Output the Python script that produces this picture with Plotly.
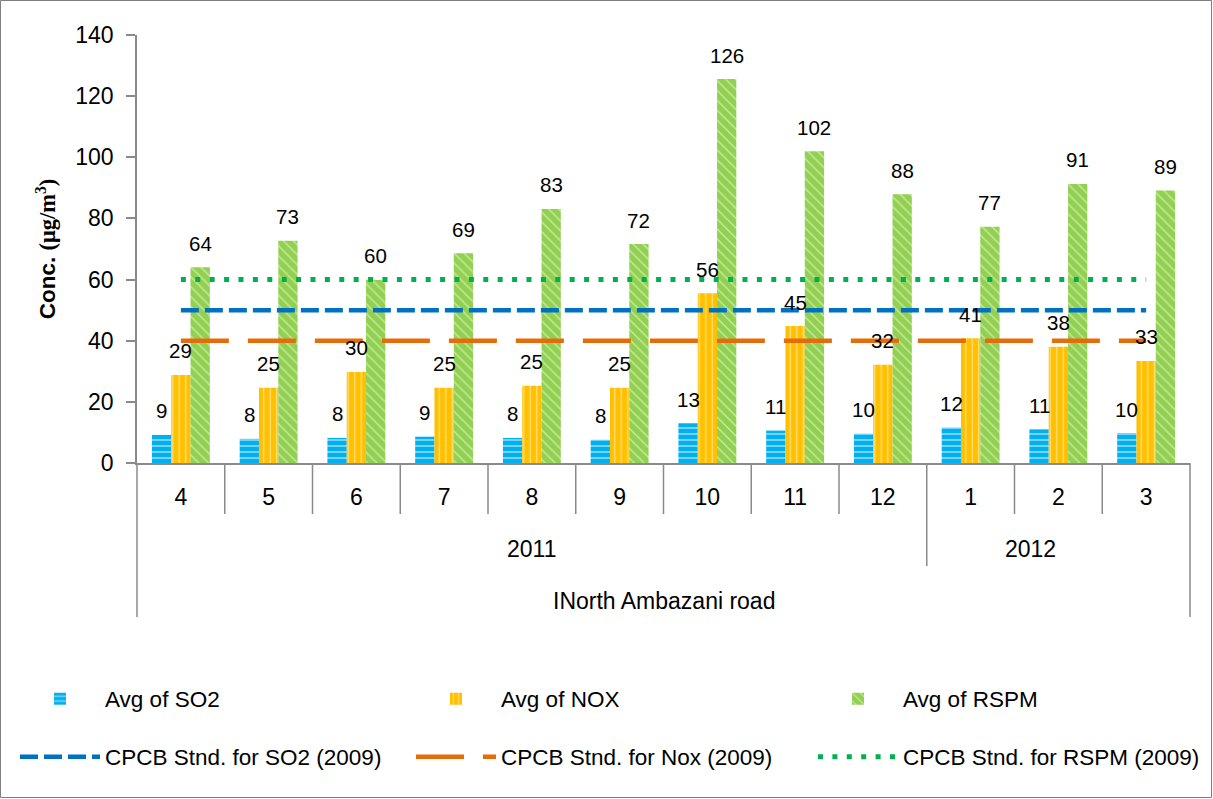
import plotly.graph_objects as go

# ---------------- data ----------------
months = ["4", "5", "6", "7", "8", "9", "10", "11", "12", "1", "2", "3"]
years = ["2011", "2011", "2011", "2011", "2011", "2011", "2011", "2011", "2011",
         "2012", "2012", "2012"]
site = "INorth Ambazani road"

so2 = [9.2, 7.9, 8.2, 8.6, 8.2, 7.6, 13.0, 10.6, 9.6, 11.6, 11.0, 9.8]
nox = [28.8, 24.6, 29.8, 24.6, 25.3, 24.6, 55.5, 44.8, 32.1, 40.8, 38.0, 33.4]
rspm = [64.0, 72.7, 59.9, 68.6, 83.1, 71.6, 125.6, 102.0, 87.9, 77.3, 91.3, 89.1]

so2_std = [50, 50, 50, 50, 50, 50, 50, 50, 50, 50, 50, 50]
nox_std = [40, 40, 40, 40, 40, 40, 40, 40, 40, 40, 40, 40]
rspm_std = [60, 60, 60, 60, 60, 60, 60, 60, 60, 60, 60, 60]

bar_names = ["Avg of SO2", "Avg of NOX", "Avg of RSPM"]
line_names = ["CPCB Stnd. for SO2 (2009)", "CPCB Stnd. for Nox (2009)",
              "CPCB Stnd. for RSPM (2009)"]

# ---------------- style ----------------
FONT = "Liberation Sans"
AXIS_GREY = "#8a8a8a"
W, H = 1213, 799
ML, MR, MT, MB = 137, 23, 35, 336
PW, PH = W - ML - MR, H - MT - MB
BARGAP = 0.34
n = len(months)
xs = list(range(n))


def px_x(p):
    return (p - ML) / PW


def px_y(p):
    return (H - MB - p) / PH


fig = go.Figure()

bar_styles = [
    dict(color="#00B0F0", shape="-", size=6, solidity=0.3),
    dict(color="#FFC000", shape="|", size=6.5, solidity=0.2),
    dict(color="#92D050", shape="\\", size=7, solidity=0.2),
]
bar_data = [so2, nox, rspm]
for k, (name, vals, st) in enumerate(zip(bar_names, bar_data, bar_styles)):
    fig.add_trace(go.Bar(
        x=xs, y=vals, name=name,
        marker=dict(color=st["color"], line=dict(width=0),
                    pattern=dict(shape=st["shape"], fgcolor="white",
                                 fillmode="overlay", size=st["size"],
                                 solidity=st["solidity"])),
        legend="legend" if k == 0 else f"legend{k + 1}",
        hoverinfo="skip",
    ))

line_styles = [
    dict(color="#0070C0", dash="18px,6px", width=4.5),
    dict(color="#E46C0A", dash="48px,19px", width=4.5),
    dict(color="#00B050", dash="5px,9.4px", width=5),
]
line_data = [so2_std, nox_std, rspm_std]
for k, (name, vals, st) in enumerate(zip(line_names, line_data, line_styles)):
    fig.add_trace(go.Scatter(
        x=xs, y=vals, name=name, mode="lines",
        line=dict(color=st["color"], dash=st["dash"], width=st["width"]),
        legend=f"legend{k + 4}",
        hoverinfo="skip",
    ))

# data labels above bars
bw = (1 - BARGAP) / 3
annotations = []
for k, vals in enumerate(bar_data):
    off = (k - 1) * bw
    for i, v in enumerate(vals):
        annotations.append(dict(
            x=i + off, y=v, xref="x", yref="y", text=str(int(round(v))),
            showarrow=False, yshift=24, yanchor="middle",
            font=dict(family=FONT, size=20.5, color="black")))

# category hierarchy (year and site rows)
y_month_bottom = px_y(514)
y_year_bottom = px_y(566)
y_site_bottom = px_y(617)
groups = []
start = 0
for i in range(1, n + 1):
    if i == n or years[i] != years[start]:
        groups.append((years[start], start, i))
        start = i
for label, a, b in groups:
    annotations.append(dict(
        x=(a + b) / 2 / n, y=px_y(549), xref="paper", yref="paper",
        text=label, showarrow=False, yanchor="middle",
        font=dict(family=FONT, size=23, color="black")))
annotations.append(dict(
    x=0.5, y=px_y(601), xref="paper", yref="paper", text=site,
    showarrow=False, yanchor="middle",
    font=dict(family=FONT, size=23, color="black")))

shapes = []
year_bounds = {b for _, a, b in groups if 0 < b < n}
for b in range(1, n):
    y1 = y_year_bottom if b in year_bounds else y_month_bottom
    shapes.append(dict(type="line", xref="paper", yref="paper",
                       x0=b / n, x1=b / n, y0=0, y1=y1,
                       line=dict(color=AXIS_GREY, width=1.5)))
for xe in (0, 1):
    shapes.append(dict(type="line", xref="paper", yref="paper",
                       x0=xe, x1=xe, y0=0, y1=y_site_bottom,
                       line=dict(color=AXIS_GREY, width=1.5)))
# outer chart border
shapes.append(dict(type="rect", xref="paper", yref="paper",
                   x0=px_x(0.5), x1=px_x(W - 1.5), y0=px_y(0.5), y1=px_y(H - 1.5),
                   line=dict(color="#7f7f7f", width=1), fillcolor="rgba(0,0,0,0)"))

layout_legends = {}
leg_pos = [(15, 699), (411, 699), (813, 699), (15, 757), (411, 757), (813, 757)]
for k, (lx, ly) in enumerate(leg_pos):
    key = "legend" if k == 0 else f"legend{k + 1}"
    layout_legends[key] = dict(
        x=px_x(lx), y=px_y(ly), xanchor="left", yanchor="middle",
        orientation="h", itemwidth=80, bgcolor="rgba(0,0,0,0)",
        font=dict(family=FONT, size=22.5, color="black"))

fig.update_layout(
    width=W, height=H,
    margin=dict(l=ML, r=MR, t=MT, b=MB, pad=0, autoexpand=False),
    paper_bgcolor="white", plot_bgcolor="white",
    barmode="group", bargap=BARGAP, bargroupgap=0,
    showlegend=True,
    font=dict(family=FONT, color="black"),
    xaxis=dict(range=[-0.5, n - 0.5], tickvals=xs, ticktext=months,
               showgrid=False, zeroline=False, showline=True,
               linecolor=AXIS_GREY, linewidth=1.5, ticks="",
               ticklabelstandoff=13, automargin=False,
               tickfont=dict(family=FONT, size=23, color="black")),
    yaxis=dict(range=[0, 140], dtick=20, showgrid=False, zeroline=False,
               showline=True, linecolor=AXIS_GREY, linewidth=1.5,
               ticks="outside", ticklen=9, tickwidth=1.5, tickcolor=AXIS_GREY,
               ticklabelstandoff=8, automargin=False,
               tickfont=dict(family=FONT, size=23, color="black"),
               title=dict(text="<b>Conc. </b><b><span style='font-family:Liberation Serif'>(μg/m<sup>3</sup>)</span></b>",
                          font=dict(family=FONT, size=22.5, color="black"),
                          standoff=13)),
    annotations=annotations,
    shapes=shapes,
    **layout_legends,
)

fig.write_html("out.html", config={"displayModeBar": False},
               post_script="document.body.style.margin='0';document.body.style.overflow='hidden';")
